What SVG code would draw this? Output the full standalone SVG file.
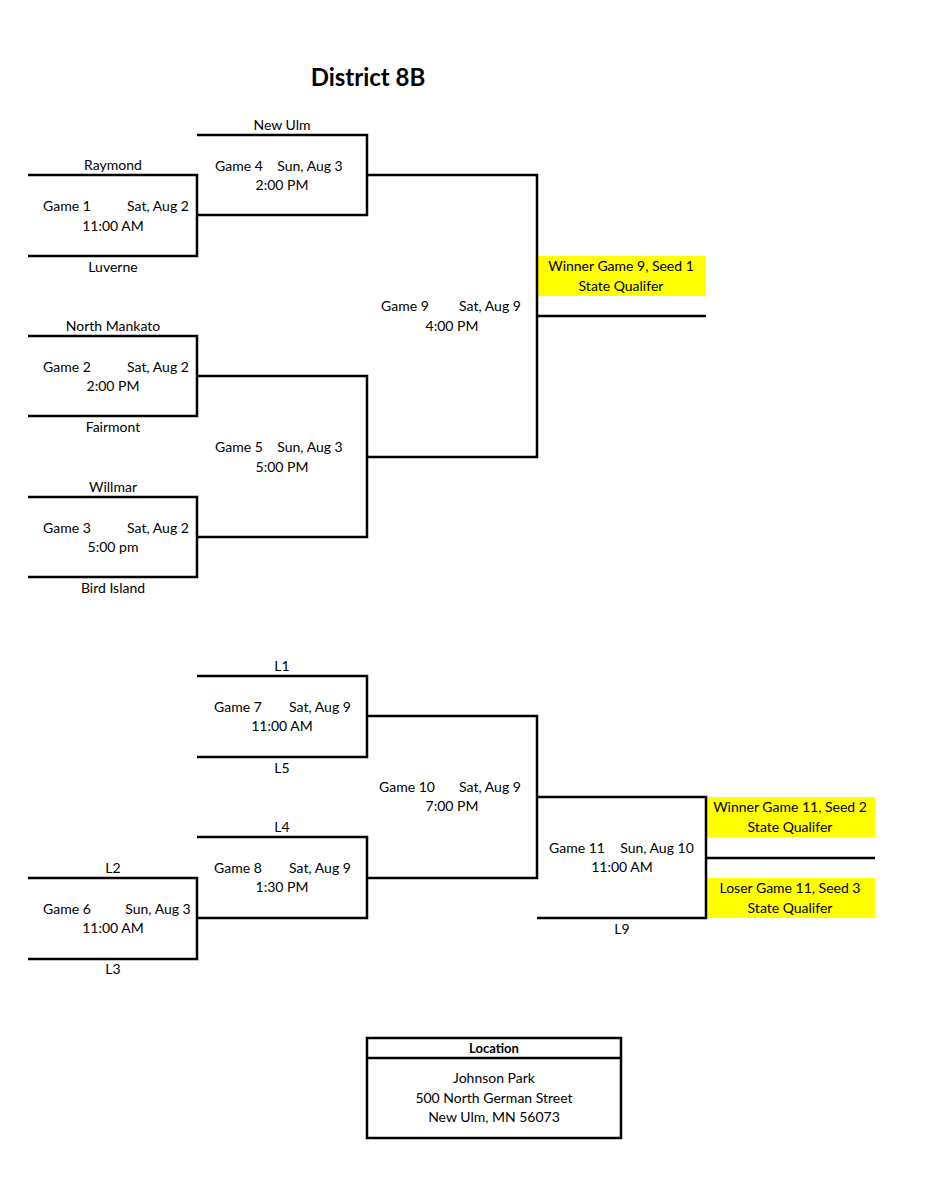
<svg xmlns="http://www.w3.org/2000/svg" width="927" height="1200" viewBox="0 0 927 1200">
<style>
text{font-family:Lato,"Open Sans","Liberation Sans",sans-serif;font-size:14px;fill:#000;text-anchor:middle}
.b{font-weight:bold}
.l{stroke:#000;stroke-width:2.5;fill:none}
.y{fill:#ffff00}
</style>
<rect width="927" height="1200" fill="#fff"/>
<text x="368" y="86" class="b" style="font-size:24px">District 8B</text>
<g id="highlights">
<rect class="y" x="537" y="256" width="169" height="40"/>
<rect class="y" x="706" y="797" width="169" height="40"/>
<rect class="y" x="706" y="878" width="169" height="40"/>
</g>
<g id="connectors">
<path class="l" d="M28 175H197V256H28"/>
<path class="l" d="M197 135H367V215H197"/>
<path class="l" d="M367 175H537V457H367M537 316H706"/>
<path class="l" d="M28 336H197V416H28"/>
<path class="l" d="M197 376H367V537H197"/>
<path class="l" d="M28 497H197V577H28"/>
<path class="l" d="M197 676H367V757H197"/>
<path class="l" d="M367 716H537V878H367"/>
<path class="l" d="M197 837H367V918H197"/>
<path class="l" d="M28 878H197V959H28"/>
<path class="l" d="M537 797H706V918H537M706 858H875"/>
</g>
<g id="game1"><text x="113" y="170">Raymond</text><text x="67" y="211">Game 1</text><text x="158" y="211">Sat, Aug 2</text><text x="113" y="231">11:00 AM</text><text x="113" y="272">Luverne</text></g>
<g id="game4"><text x="282" y="130">New Ulm</text><text x="239" y="171">Game 4</text><text x="310" y="171">Sun, Aug 3</text><text x="282" y="190">2:00 PM</text></g>
<g id="game9"><text x="405" y="311">Game 9</text><text x="490" y="311">Sat, Aug 9</text><text x="452" y="331">4:00 PM</text>
<text x="621" y="271">Winner Game 9, Seed 1</text><text x="621" y="291">State Qualifer</text></g>
<g id="game2"><text x="113" y="331">North Mankato</text><text x="67" y="372">Game 2</text><text x="158" y="372">Sat, Aug 2</text><text x="113" y="391">2:00 PM</text><text x="113" y="432">Fairmont</text></g>
<g id="game5"><text x="239" y="452">Game 5</text><text x="310" y="452">Sun, Aug 3</text><text x="282" y="472">5:00 PM</text></g>
<g id="game3"><text x="113" y="492">Willmar</text><text x="67" y="533">Game 3</text><text x="158" y="533">Sat, Aug 2</text><text x="113" y="552">5:00 pm</text><text x="113" y="593">Bird Island</text></g>
<g id="game7"><text x="282" y="671">L1</text><text x="238" y="712">Game 7</text><text x="320" y="712">Sat, Aug 9</text><text x="282" y="731">11:00 AM</text><text x="282" y="773">L5</text></g>
<g id="game10"><text x="407" y="792">Game 10</text><text x="490" y="792">Sat, Aug 9</text><text x="452" y="811">7:00 PM</text></g>
<g id="game8"><text x="282" y="832">L4</text><text x="238" y="873">Game 8</text><text x="320" y="873">Sat, Aug 9</text><text x="282" y="892">1:30 PM</text></g>
<g id="game6"><text x="113" y="873">L2</text><text x="67" y="914">Game 6</text><text x="158" y="914">Sun, Aug 3</text><text x="113" y="933">11:00 AM</text><text x="113" y="974">L3</text></g>
<g id="game11"><text x="577" y="853">Game 11</text><text x="657" y="853">Sun, Aug 10</text><text x="622" y="872">11:00 AM</text><text x="622" y="934">L9</text>
<text x="790" y="812">Winner Game 11, Seed 2</text><text x="790" y="832">State Qualifer</text>
<text x="790" y="893">Loser Game 11, Seed 3</text><text x="790" y="913">State Qualifer</text></g>
<g id="location"><rect class="l" x="367" y="1038" width="254" height="100"/><path class="l" d="M367 1058H621"/>
<text x="494" y="1053" class="b" style="font-size:13px">Location</text>
<text x="494" y="1083">Johnson Park</text><text x="494" y="1103">500 North German Street</text><text x="494" y="1122">New Ulm, MN 56073</text></g>
</svg>
